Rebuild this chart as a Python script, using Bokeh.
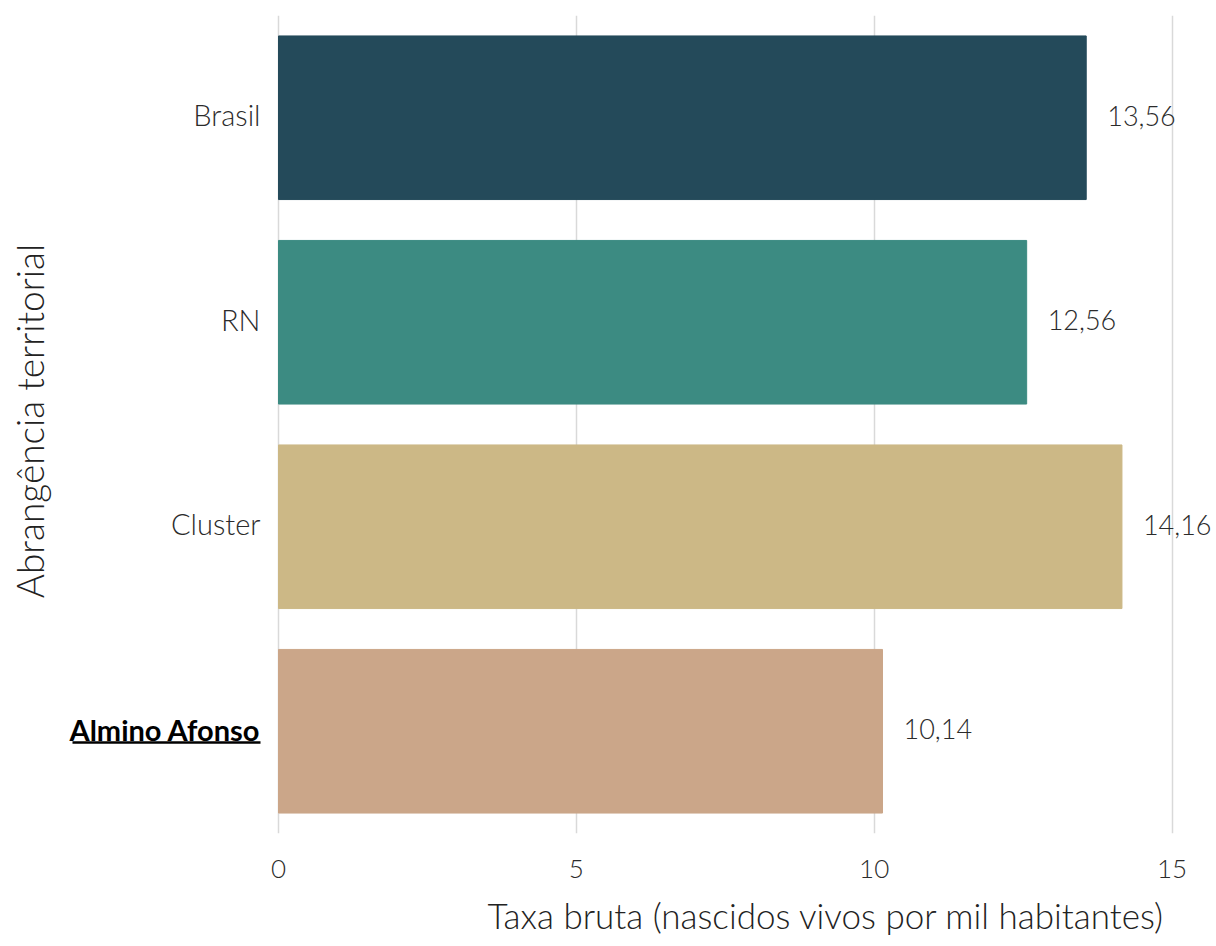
from bokeh.plotting import figure
from bokeh.models import ColumnDataSource, FactorRange, Range1d, FixedTicker, Label, Title
from bokeh.core.properties import value
from bokeh.embed import file_html
from bokeh.resources import INLINE

categories = ["Brasil", "RN", "Cluster", "Almino Afonso"]
values = [13.56, 12.56, 14.16, 10.14]
colors = ["#244a5a", "#3c8b82", "#ccb886", "#cba689"]
x_ticks = [0, 5, 10, 15]
x_title = "Taxa bruta (nascidos vivos por mil habitantes)"
y_title = "Abrangência territorial"
highlight = "Almino Afonso"

FONT = "Lato Light"
W, H = 1216, 946
FRAME_LEFT, FRAME_RIGHT = 0, 1216
FRAME_TOP, FRAME_BOTTOM = 15, 834
ZERO_PX, FIFTEEN_PX = 278, 1171.5
scale = (FIFTEEN_PX - ZERO_PX) / 15.0
x_start = (FRAME_LEFT - ZERO_PX) / scale
x_end = (FRAME_RIGHT - ZERO_PX) / scale

labels_txt = [f"{v:.2f}".replace(".", ",") for v in values]
src = ColumnDataSource(dict(cat=categories, val=values, color=colors, lab=labels_txt))
normal = [c for c in categories if c != highlight]
src_norm = ColumnDataSource(dict(cat=normal, x=[0] * len(normal)))
src_hi = ColumnDataSource(dict(cat=[highlight], x=[0]))

p = figure(width=W, height=H, output_backend="svg", toolbar_location=None,
           y_range=FactorRange(factors=list(reversed(categories)), range_padding=0),
           x_range=Range1d(x_start, x_end),
           min_border_left=FRAME_LEFT, min_border_right=W - FRAME_RIGHT,
           min_border_top=FRAME_TOP, min_border_bottom=H - FRAME_BOTTOM)
p.outline_line_color = None
p.background_fill_color = "white"
p.border_fill_color = "white"

p.hbar(y="cat", right="val", left=0, height=0.8, color="color", source=src)

p.text(x="val", y="cat", text="lab", source=src, x_offset=21, y_offset=-2,
       text_align="left", text_baseline="middle",
       text_font=value(FONT), text_font_size="27px", text_color="#2b2b2b")

p.text(x="x", y="cat", text="cat", source=src_norm, x_offset=-18, y_offset=-3,
       text_align="right", text_baseline="middle",
       text_font=value(FONT), text_font_size="29px", text_color="#2b2b2b")
p.text(x="x", y="cat", text="cat", source=src_hi, x_offset=-18, y_offset=-2,
       text_align="right", text_baseline="middle",
       text_font=value("Lato"), text_font_style="bold", text_font_size="29px",
       text_color="#000000")
# underline for highlighted label
ul_px_right, ul_px_width = 18, 188
p.segment(x0=[-(ul_px_right + ul_px_width) / scale], x1=[-ul_px_right / scale],
          y0=[(highlight, -0.055)], y1=[(highlight, -0.055)],
          line_color="black", line_width=2.5)

p.xgrid.ticker = FixedTicker(ticks=x_ticks)
p.xgrid.grid_line_color = "#d9d9d9"
p.xgrid.grid_line_width = 1.5
p.ygrid.grid_line_color = None

p.xaxis.ticker = FixedTicker(ticks=x_ticks)
p.xaxis.axis_line_color = None
p.xaxis.major_tick_line_color = None
p.xaxis.minor_tick_line_color = None
p.xaxis.major_label_standoff = 20
p.xaxis.major_label_text_font = FONT
p.xaxis.major_label_text_font_size = "26px"
p.xaxis.major_label_text_color = "#2b2b2b"
p.yaxis.visible = False

p.add_layout(Title(text=x_title, align="left", offset=487,
                   vertical_align="bottom", text_baseline="alphabetic",
                   text_font=FONT, text_font_style="normal", text_font_size="35px",
                   text_color="#222222", standoff=22), "below")
p.add_layout(Label(x=29, x_units="screen", y=2.017, y_units="data", text=y_title,
                   angle=1.5707963, text_align="center", text_baseline="middle",
                   text_font=FONT, text_font_size="37px", text_color="#222222"))

open("out.html", "w").write(file_html(p, INLINE))
